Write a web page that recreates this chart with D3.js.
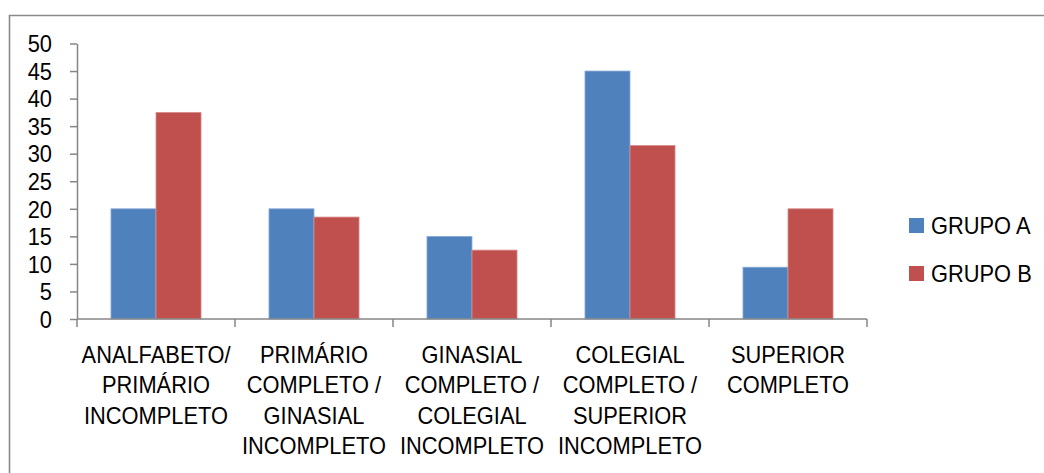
<!DOCTYPE html>
<html>
<head>
<meta charset="utf-8">
<script src="https://cdn.jsdelivr.net/npm/d3@7"></script>
<style>
  html, body { margin: 0; padding: 0; background: #fff; }
  svg { display: block; }
  text { font-family: "Liberation Sans", Arial, sans-serif; fill: #000; }
</style>
</head>
<body>
<svg id="chart" width="1044" height="473"></svg>
<script>
// Escolaridade por grupo (%)
const categories = [
  "ANALFABETO/\nPRIMÁRIO\nINCOMPLETO",
  "PRIMÁRIO\nCOMPLETO /\nGINASIAL\nINCOMPLETO",
  "GINASIAL\nCOMPLETO /\nCOLEGIAL\nINCOMPLETO",
  "COLEGIAL\nCOMPLETO /\nSUPERIOR\nINCOMPLETO",
  "SUPERIOR\nCOMPLETO"
];
const seriesNames = ["GRUPO A", "GRUPO B"];
const grupoA = [20, 20, 15, 45, 9.4];
const grupoB = [37.5, 18.5, 12.5, 31.5, 20];
const yTicks = [0, 5, 10, 15, 20, 25, 30, 35, 40, 45, 50];
const colors = ["#4F81BD", "#C0504D"];
const edgeColors = ["#8DADD6", "#D88E8C"];

const FONT = 23;      // label size
const SX = 0.95;      // slight horizontal condensing of the text

const svg = d3.select("#chart");
const plot = { left: 77, right: 867, top: 43.5, bottom: 319 };

// frame (top and left edges)
svg.append("path")
  .attr("d", "M9.5,480 V15.5 H1050")
  .attr("fill", "none").attr("stroke", "#8a8a8a").attr("stroke-width", 1.6);

const x0 = d3.scaleBand()
  .domain(d3.range(categories.length))
  .range([plot.left, plot.right])
  .paddingInner(0.43)
  .paddingOuter(0.215);

const x1 = d3.scaleBand()
  .domain(seriesNames)
  .range([0, x0.bandwidth()]);

const y = d3.scaleLinear().domain([0, 50]).range([plot.bottom, plot.top]);

const data = categories.map((c, i) => ({ i, values: [grupoA[i], grupoB[i]] }));

// bars
const groups = svg.append("g").selectAll("g")
  .data(data).join("g")
  .attr("transform", d => `translate(${x0(d.i)},0)`);

groups.selectAll("rect")
  .data(d => d.values.map((v, k) => ({ k, v })))
  .join("rect")
  .attr("x", d => x1(seriesNames[d.k]))
  .attr("y", d => y(d.v))
  .attr("width", x1.bandwidth())
  .attr("height", d => y(0) - y(d.v))
  .attr("fill", d => colors[d.k])
  .attr("stroke", d => edgeColors[d.k])
  .attr("stroke-width", 0.8);

// y axis
const yAxis = svg.append("g")
  .attr("transform", `translate(${plot.left},0)`)
  .call(d3.axisLeft(y).tickValues(yTicks).tickSize(7).tickSizeOuter(0).tickPadding(24));
yAxis.select(".domain").attr("stroke", "#868686").attr("stroke-width", 1.5);
yAxis.selectAll(".tick line").attr("stroke", "#868686").attr("stroke-width", 1.5);
yAxis.selectAll(".tick text")
  .attr("font-size", FONT)
  .attr("font-family", null)
  .attr("x", null)
  .attr("dy", "0.36em")
  .attr("transform", `translate(-25,0) scale(${SX},1)`);

// x axis with ticks at category boundaries
const boundaries = d3.range(categories.length + 1).map(i => plot.left + i * x0.step());
const xAxisG = svg.append("g");
xAxisG.append("line")
  .attr("x1", plot.left).attr("x2", plot.right)
  .attr("y1", plot.bottom).attr("y2", plot.bottom)
  .attr("stroke", "#868686").attr("stroke-width", 1.5);
xAxisG.selectAll("line.tick")
  .data(boundaries).join("line")
  .attr("class", "tick")
  .attr("x1", d => d).attr("x2", d => d)
  .attr("y1", plot.bottom).attr("y2", plot.bottom + 8)
  .attr("stroke", "#868686").attr("stroke-width", 1.5);

// category labels
const labels = svg.append("g").selectAll("text")
  .data(categories).join("text")
  .attr("text-anchor", "middle")
  .attr("font-size", FONT)
  .attr("transform", (d, i) => `translate(${x0(i) + x0.bandwidth() / 2},363) scale(${SX},1)`);
labels.selectAll("tspan")
  .data(d => d.split("\n"))
  .join("tspan")
  .attr("x", 0)
  .attr("y", (d, j) => j * 30.3)
  .text(d => d);

// legend
const legend = svg.append("g").selectAll("g")
  .data(seriesNames).join("g")
  .attr("transform", (d, i) => `translate(909,${218 + i * 48})`);
legend.append("rect")
  .attr("width", 15).attr("height", 15)
  .attr("fill", (d, i) => colors[i]);
legend.append("text")
  .attr("font-size", FONT)
  .attr("transform", `translate(22,15.5) scale(${SX},1)`)
  .text(d => d);
</script>
</body>
</html>
